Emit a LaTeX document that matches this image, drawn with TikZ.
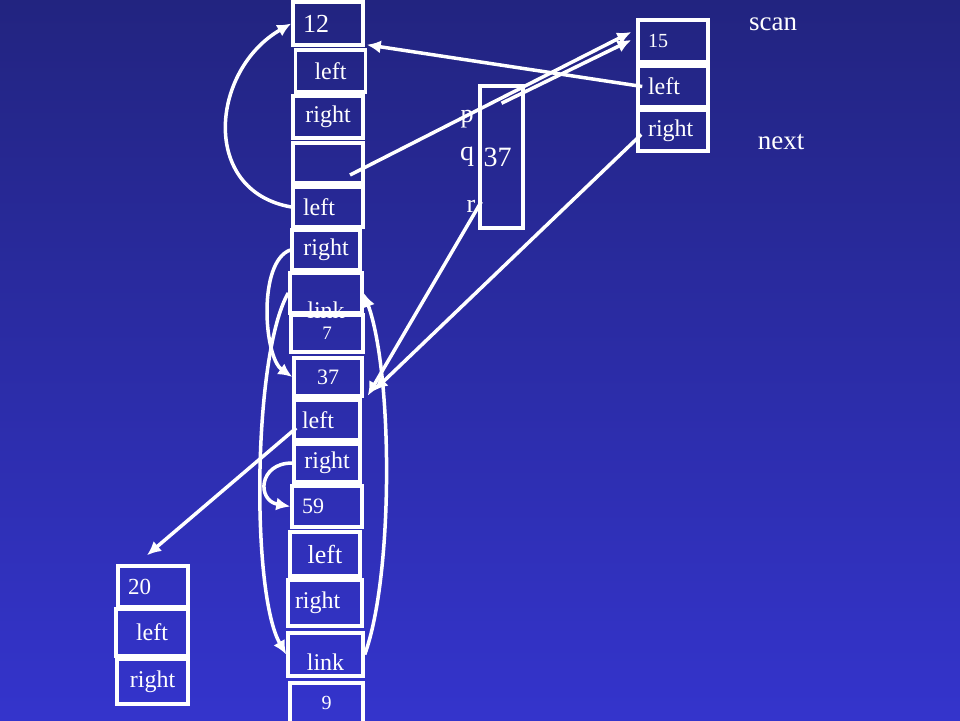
\documentclass[tikz,border=0pt]{standalone}
\usepackage{fontspec}
\setmainfont{Liberation Serif}
\usetikzlibrary{arrows.meta}
\definecolor{bgtop}{RGB}{34,36,128}
\definecolor{bgbot}{RGB}{52,52,204}

\begin{document}
\begin{tikzpicture}
    [
    x=1pt,y=-1pt,white,line width=3.5pt,
    >={Latex[length=14pt,width=13pt]},
    font=\fontsize{24}{28}\selectfont,
    field/.style={rectangle,draw,inner sep=0pt,minimum width=70pt,minimum height=42pt},
    lfield/.style={field,text width=50pt,align=left}
    ]
    \useasboundingbox (0,0) rectangle (960,720);
    \fill [top color=bgtop,bottom color=bgbot] (0,0) rectangle (960,720);
    % middle column
    \node (n12) at (328,23.5) [lfield,minimum height=43pt,font=\fontsize{26}{28}\selectfont] {12};
    \node (nl1) at (330.5,71) [field] {left};
    \node (nr1) at (328,117) [field] {right};
    \node (ne) at (328,163) [field,minimum height=40pt] {};
    \node (nl2) at (328,207) [lfield,minimum height=40pt] {left};
    \node (nr2) at (326,250) [field,minimum width=68pt,minimum height=40pt] {right};
    \node (nk1) at (326,293) [field,minimum width=72pt,minimum height=40pt,text height=40pt,text depth=0pt] {\raisebox{-5pt}{link}};
    \node (n7) at (327,333.5) [field,minimum width=72pt,minimum height=37pt,font=\fontsize{19}{20}\selectfont] {7};
    \node (n37) at (328,377) [field,minimum width=68pt,minimum height=38pt,font=\fontsize{22}{24}\selectfont] {37};
    \node (nl3) at (327,420) [lfield,minimum width=66pt,minimum height=40pt] {left};
    \node (nr3) at (327,463) [field,minimum width=66pt,minimum height=38pt] {right};
    \node (n59) at (327,506.5) [lfield,minimum height=41pt,font=\fontsize{22}{24}\selectfont] {59};
    \node (nl4) at (325,554) [field,minimum height=44pt,font=\fontsize{26}{28}\selectfont] {left};
    \node (nr4) at (325,603) [lfield,text width=60pt,minimum width=74pt,minimum height=46pt] {right};
    \node (nk2) at (325.5,654.5) [field,minimum width=75pt,minimum height=43pt,text height=31pt,text depth=0pt] {link};
    \node (n9) at (326.5,703) [field,minimum width=73pt,minimum height=40pt,font=\fontsize{20}{22}\selectfont] {9};
    % right column
    \node (n15) at (673,41) [lfield,font=\fontsize{20}{22}\selectfont] {15};
    \node (nl5) at (673,86.5) [lfield,minimum height=41pt] {left};
    \node (nr5) at (673,130.5) [lfield,minimum height=41pt] {right};
    % left column
    \node (n20) at (153,586.5) [lfield,minimum height=41pt,font=\fontsize{23}{25}\selectfont] {20};
    \node (nl6) at (152,632.5) [field,minimum width=72pt,minimum height=47pt] {left};
    \node (nr6) at (152.5,681.5) [field,minimum width=71pt,minimum height=45pt] {right};
    % p q r
    \node (np) at (501.5,157) [draw,inner sep=0pt,minimum width=43pt,minimum height=142pt,text width=36pt,font=\fontsize{28}{30}\selectfont] {37};
    \node (lp) at (467,119) [inner sep=0pt,font=\fontsize{26}{28}\selectfont] {p};
    \node (lq) at (467,157) [inner sep=0pt,font=\fontsize{28}{30}\selectfont] {q};
    \node (lr) at (471,206) [inner sep=0pt,font=\fontsize{26}{28}\selectfont] {r};
    \node (scan) at (773,24) [font=\fontsize{27}{29}\selectfont] {scan};
    \node (next) at (781,142) [font=\fontsize{27}{29}\selectfont] {next};
    % pointers
    \draw [->] (nl2.west) to [out=170,in=210,looseness=1.3] (n12.west);
    \draw [->] (nr2.west) to [out=200,in=145,looseness=0.7] (n37.west);
    \draw [->] (nk1.west) to [out=240,in=120,looseness=0.5] (nk2.west);
    \draw [->] (nk2.east) to [out=70,in=-70,looseness=0.6] (nk1.east);
    \draw [->] (nr3.west) to [out=180,in=170,looseness=2] (n59.west);
    \draw [->] ([xshift=4pt,yshift=-8pt]nl3.west) to ([xshift=-6pt,yshift=9pt]n20.north);
    \draw [->] ([xshift=3pt,yshift=28pt]np.south west) to ([xshift=4pt,yshift=2pt]n37.south east);
    \draw [->] ([xshift=5pt,yshift=-4pt]nr5.west) to ([xshift=10pt,yshift=7pt]n37.south east);
    \draw [->] ([xshift=6pt]nl5.west) to ([xshift=2pt,yshift=2pt]n12.south east);
    \draw [->] ([xshift=22pt,yshift=-12pt]ne.center) to ([xshift=-5pt,yshift=9pt]n15.west);
    \draw [->] ([yshift=-19pt]np.north) to ([xshift=-5pt,yshift=1pt]n15.west);
\end{tikzpicture}
\end{document}
